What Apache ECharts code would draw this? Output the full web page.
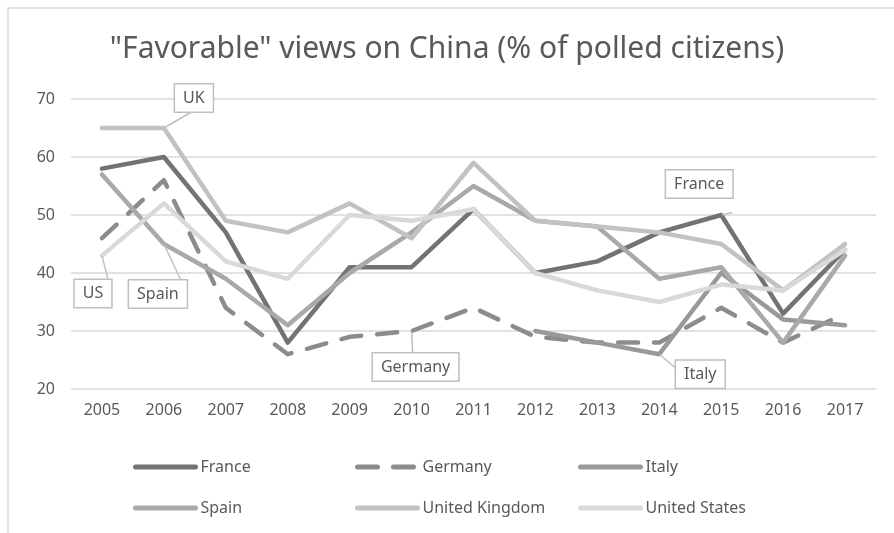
<!DOCTYPE html>
<html>
<head>
<meta charset="utf-8">
<script src="https://cdn.jsdelivr.net/npm/echarts@6/dist/echarts.min.js"></script>
<style>
  html, body { margin: 0; padding: 0; background: #ffffff; }
  #chart { width: 894px; height: 533px; }
</style>
</head>
<body>
<div id="chart"></div>
<script>
// Pew-style favourability of China, by country and year (%)
const years = ['2005', '2006', '2007', '2008', '2009', '2010', '2011', '2012', '2013', '2014', '2015', '2016', '2017'];
const france  = [58, 60, 47, 28, 41, 41, 51, 40, 42, 47, 50, 33, 44];
const germany = [46, 56, 34, 26, 29, 30, 34, 29, 28, 28, 34, 28, 33];
const italy   = [null, null, null, null, null, null, null, 30, 28, 26, 40, 32, 31];
const spain   = [57, 45, 39, 31, 40, 47, 55, 49, 48, 39, 41, 28, 43];
const uk      = [65, 65, 49, 47, 52, 46, 59, 49, 48, 47, 45, 37, 45];
const us      = [43, 52, 42, 39, 50, 49, 51, 40, 37, 35, 38, 37, 44];
const yTicks  = [20, 30, 40, 50, 60, 70];

const FONT = 'Noto Sans';
const TEXT = '#595959';
const GRID = '#d9d9d9';

// Callout boxes: which point they tag and where the box sits relative to it
const callouts = {
  'France':         { year: '2015', text: 'France',  offset: [-22, -31] },
  'Germany':        { year: '2010', text: 'Germany', offset: [4, 36] },
  'Italy':          { year: '2014', text: 'Italy',   offset: [41, 20] },
  'Spain':          { year: '2006', text: 'Spain',   offset: [-6, 50] },
  'United Kingdom': { year: '2006', text: 'UK',      offset: [30, -30] },
  'United States':  { year: '2005', text: 'US',      offset: [-9, 38] }
};

const seriesDefs = [
  { name: 'France',         values: france,  color: '#737373', dashed: false },
  { name: 'Germany',        values: germany, color: '#8c8c8c', dashed: true },
  { name: 'Italy',          values: italy,   color: '#999999', dashed: false },
  { name: 'Spain',          values: spain,   color: '#a9a9a9', dashed: false },
  { name: 'United Kingdom', values: uk,      color: '#c2c2c2', dashed: false },
  { name: 'United States',  values: us,      color: '#d9d9d9', dashed: false }
];

function buildData(def) {
  const c = callouts[def.name];
  return def.values.map((v, i) => {
    if (v == null) return '-';
    if (c && years[i] === c.year) {
      return {
        value: v,
        symbol: 'circle',
        symbolSize: 1,
        label: {
          show: true,
          position: 'inside',
          offset: c.offset,
          formatter: c.text,
          fontFamily: FONT,
          fontSize: 16,
          color: TEXT,
          backgroundColor: '#ffffff',
          borderColor: '#bfbfbf',
          borderWidth: 1.5,
          padding: [6, 8, 5, 8]
        },
        labelLine: {
          show: true,
          lineStyle: { color: '#bfbfbf', width: 1.5 }
        }
      };
    }
    return v;
  });
}

const series = seriesDefs.map(def => ({
  name: def.name,
  type: 'line',
  data: buildData(def),
  symbol: 'none',
  showSymbol: true,
  showAllSymbol: true,
  connectNulls: false,
  animation: false,
  itemStyle: { color: def.color },
  lineStyle: {
    color: def.color,
    width: 4.5,
    type: def.dashed ? [20, 16] : 'solid',
    cap: 'round',
    join: 'round'
  },
  emphasis: { disabled: true }
}));

function legendColumn(names, left) {
  return {
    orient: 'vertical',
    left: left,
    top: 459,
    itemWidth: 60,
    itemHeight: 12,
    itemGap: 25,
    padding: 0,
    selectedMode: false,
    data: names,
    itemStyle: { opacity: 0 },
    lineStyle: { width: 5, cap: 'round' },
    textStyle: { fontFamily: FONT, fontSize: 16, color: TEXT }
  };
}

const chart = echarts.init(document.getElementById('chart'), null, { renderer: 'canvas' });
chart.setOption({
  backgroundColor: '#ffffff',
  animation: false,
  title: {
    text: '"Favorable" views on China (% of polled citizens)',
    left: 'center',
    top: 34,
    padding: 0,
    textStyle: { fontFamily: FONT, fontSize: 30, fontWeight: 'normal', color: TEXT }
  },
  graphic: [{
    type: 'rect',
    silent: true,
    shape: { x: 8, y: 8, width: 920, height: 560 },
    style: { fill: 'none', stroke: GRID, lineWidth: 1.5 }
  }],
  legend: [
    legendColumn(['France', 'Spain'], 133),
    legendColumn(['Germany', 'United Kingdom'], 355),
    legendColumn(['Italy', 'United States'], 578)
  ],
  grid: { left: 71, right: 18, top: 99, bottom: 144, containLabel: false },
  xAxis: {
    type: 'category',
    data: years,
    boundaryGap: true,
    axisLine: { show: false },
    axisTick: { show: false },
    axisLabel: { fontFamily: FONT, fontSize: 16, color: TEXT, margin: 13 }
  },
  yAxis: {
    type: 'value',
    min: yTicks[0],
    max: yTicks[yTicks.length - 1],
    interval: 10,
    axisLine: { show: false },
    axisTick: { show: false },
    axisLabel: { fontFamily: FONT, fontSize: 16, color: TEXT, margin: 16 },
    splitLine: { lineStyle: { color: GRID, width: 1.5 } }
  },
  series: series
});
</script>
</body>
</html>
